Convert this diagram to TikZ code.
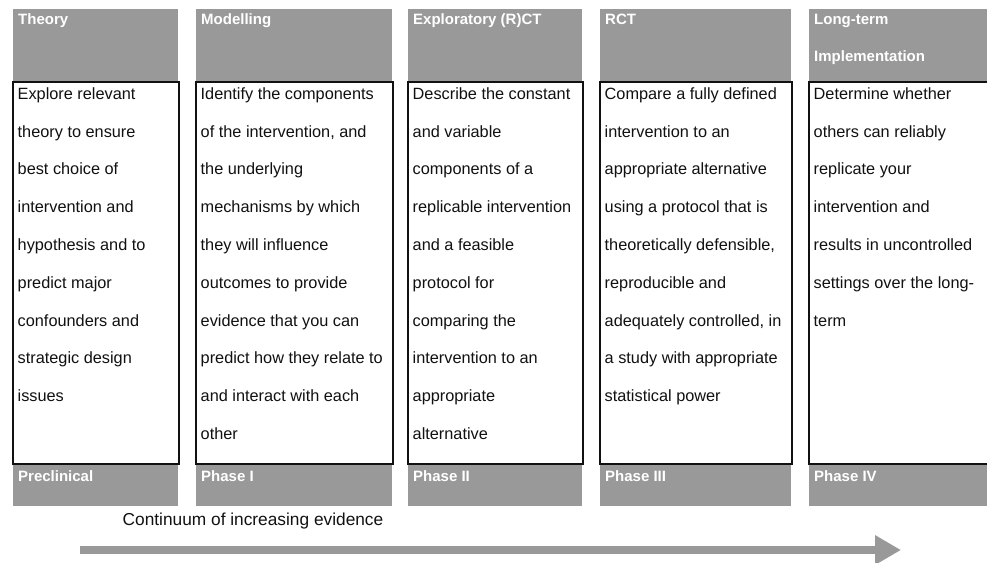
\documentclass[tikz,border=0pt]{standalone}
\usepackage{fontspec}
\setmainfont{Liberation Sans}
\usetikzlibrary{arrows.meta}

\definecolor{bandgrey}{RGB}{153,153,153}
\definecolor{ink}{RGB}{17,17,17}

\tikzset{
  band/.style={fill=bandgrey, draw=none},
  panel/.style={draw=ink, line width=2pt, fill=white},
  headtext/.style={anchor=base west, inner sep=0pt, text=white,
    font=\fontsize{15}{37.8}\selectfont\bfseries},
  bodytext/.style={anchor=base west, inner sep=0pt, text=ink,
    font=\fontsize{16.3}{37.8}\selectfont},
  notetext/.style={anchor=base west, inner sep=0pt, text=ink,
    font=\fontsize{17.3}{20}\selectfont},
  evidence/.style={draw=bandgrey, line width=8pt,
    -{Triangle[length=26pt,width=28pt]}},
}

% stacked lines, aligned on the baseline of the first line
\newcommand{\stack}[1]{\begin{tabular}[t]{@{}l@{}}#1\end{tabular}}

\begin{document}
\begin{tikzpicture}[x=1pt, y=-1pt]
  \useasboundingbox (0,0) rectangle (987,562);
  \clip (0,0) rectangle (987,562);

  % columns: left edge / right edge of the grey bands
  \foreach \l/\r in {13/178, 196/392, 408/582, 600/791, 809/1000} {
    \path[band] (\l,9) rectangle (\r,81);
    \path[band] (\l,464) rectangle (\r,506);
    \path[panel] (\l,82) rectangle (\r+1,464);
  }

  % headings
  \node[headtext] (h1) at (18,24) {Theory};
  \node[headtext] (h2) at (201,24) {Modelling};
  \node[headtext] (h3) at (413,24) {Exploratory (R)CT};
  \node[headtext] (h4) at (605,24) {RCT};
  \node[headtext] (h5) at (814,24) {\stack{Long-term\\Implementation}};

  % descriptions
  \node[bodytext] (b1) at (17.5,99.3) {\stack{Explore relevant\\theory to ensure\\best choice of\\intervention and\\hypothesis and to\\predict major\\confounders and\\strategic design\\issues}};
  \node[bodytext] (b2) at (200.5,99.3) {\stack{Identify the components\\of the intervention, and\\the underlying\\mechanisms by which\\they will influence\\outcomes to provide\\evidence that you can\\predict how they relate to\\and interact with each\\other}};
  \node[bodytext] (b3) at (412.5,99.3) {\stack{Describe the constant\\and variable\\components of a\\replicable intervention\\and a feasible\\protocol for\\comparing the\\intervention to an\\appropriate\\alternative}};
  \node[bodytext] (b4) at (604.5,99.3) {\stack{Compare a fully defined\\intervention to an\\appropriate alternative\\using a protocol that is\\theoretically defensible,\\reproducible and\\adequately controlled, in\\a study with appropriate\\statistical power}};
  \node[bodytext] (b5) at (813.5,99.3) {\stack{Determine whether\\others can reliably\\replicate your\\intervention and\\results in uncontrolled\\settings over the long-\\term}};

  % phases
  \node[headtext] (p1) at (18,481) {Preclinical};
  \node[headtext] (p2) at (201,481) {Phase I};
  \node[headtext] (p3) at (413,481) {Phase II};
  \node[headtext] (p4) at (605,481) {Phase III};
  \node[headtext] (p5) at (814,481) {Phase IV};

  % evidence arrow
  \node[notetext] (cont) at (122.5,525) {Continuum of increasing evidence};
  \coordinate (arrowstart) at (80,550);
  \coordinate (arrowtip) at (901,550);
  \draw[evidence] (arrowstart) -- (arrowtip);
\end{tikzpicture}
\end{document}
